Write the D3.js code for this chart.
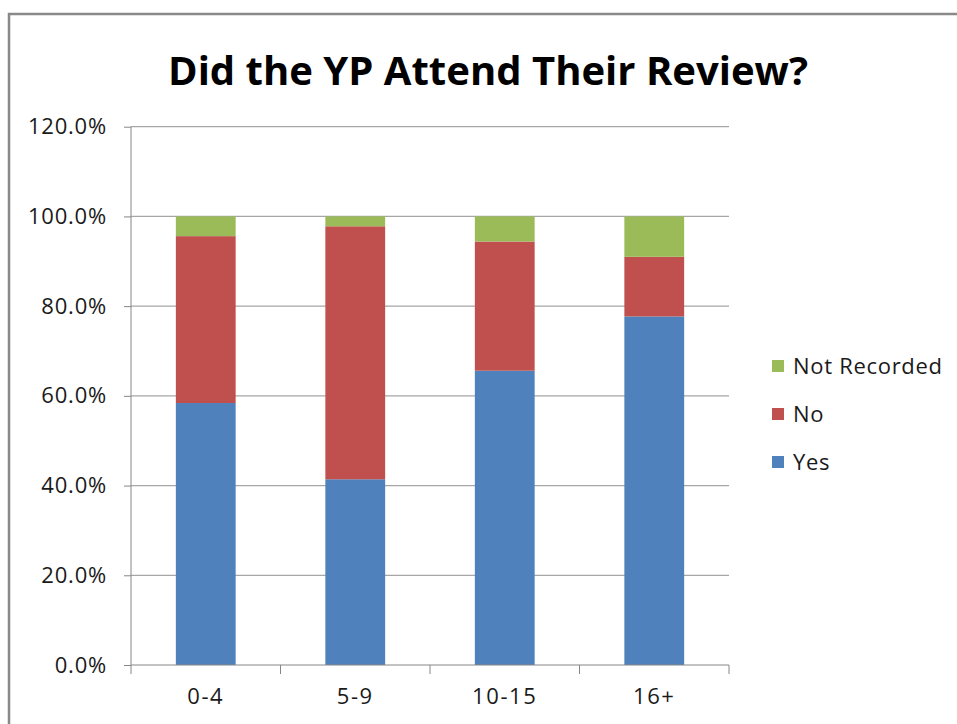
<!DOCTYPE html>
<html><head><meta charset="utf-8">
<script src="https://cdn.jsdelivr.net/npm/d3@7"></script>
<style>body{margin:0;background:#fff}svg{display:block}</style>
</head><body>
<script>
const categories = ["0-4", "5-9", "10-15", "16+"];
const yesValues = [58.4, 41.4, 65.6, 77.7];
const noValues = [37.2, 56.4, 28.8, 13.3];
const notRecordedValues = [4.4, 2.2, 5.6, 9.0];
const seriesNames = ["Yes", "No", "Not Recorded"];
const seriesColors = ["#4F81BD", "#C0504D", "#9BBB59"];
const yTicks = [0, 20, 40, 60, 80, 100, 120];
const titleText = "Did the YP Attend Their Review?";

const W = 957, H = 724;
const font = "'Open Sans', 'Noto Sans', sans-serif";
const svg = d3.select("body").append("svg").attr("width", W).attr("height", H);

// frame
svg.append("path").attr("d", `M9,${H} L9,14 L${W},14`).attr("fill", "none")
  .attr("stroke", "#898989").attr("stroke-width", 2.5);

const plot = {left: 131, right: 729, top: 126.7, bottom: 665};
const x = d3.scaleBand().domain(categories).range([plot.left, plot.right])
  .paddingInner(0.6).paddingOuter(0.3);
const y = d3.scaleLinear().domain([0, 120]).range([plot.bottom, plot.top]);

// gridlines
svg.append("g").selectAll("line").data(yTicks.filter(d => d > 0)).join("line")
  .attr("x1", plot.left).attr("x2", plot.right)
  .attr("y1", d => y(d)).attr("y2", d => y(d))
  .attr("stroke", "#a6a6a6").attr("stroke-width", 1.2);

// stacked data
const rows = categories.map((c, i) => ({cat: c, Yes: yesValues[i], No: noValues[i], "Not Recorded": notRecordedValues[i]}));
const stack = d3.stack().keys(seriesNames)(rows);
svg.append("g").selectAll("g").data(stack).join("g")
  .attr("fill", (d, i) => seriesColors[i])
  .selectAll("rect").data(d => d).join("rect")
  .attr("x", d => x(d.data.cat)).attr("width", x.bandwidth())
  .attr("y", d => y(d[1])).attr("height", d => y(d[0]) - y(d[1]));

// y axis
const yAxis = d3.axisLeft(y).tickValues(yTicks).tickSize(7).tickPadding(17)
  .tickFormat(d => d.toFixed(1) + "%");
const gy = svg.append("g").attr("transform", `translate(${plot.left},0)`).call(yAxis);
gy.select(".domain").attr("stroke", "#868686").attr("d", `M0,${plot.top}V${plot.bottom}`);
gy.selectAll(".tick line").attr("stroke", "#868686");
gy.selectAll("text").attr("font-family", font).attr("font-size", 22)
  .attr("letter-spacing", 0.8).attr("fill", "#1a1a1a");

// x axis
const xAxis = d3.axisBottom(x).tickSize(0).tickPadding(23);
const gx = svg.append("g").attr("transform", `translate(0,${plot.bottom})`).call(xAxis);
gx.select(".domain").attr("stroke", "#868686").attr("d", `M${plot.left},0H${plot.right}`);
gx.selectAll("text").attr("font-family", font).attr("font-size", 22)
  .attr("letter-spacing", 1.6).attr("fill", "#1a1a1a");
const bounds = [plot.left, ...categories.map(c => x(c) + x.bandwidth() + x.step() * x.paddingInner() / 2)];
bounds[bounds.length - 1] = plot.right;
gx.append("g").selectAll("line").data(bounds).join("line")
  .attr("x1", d => d).attr("x2", d => d).attr("y1", 0).attr("y2", 9)
  .attr("stroke", "#868686");

// title
svg.append("text").attr("x", 488).attr("y", 85).attr("text-anchor", "middle")
  .attr("font-family", font).attr("font-weight", "bold").attr("font-size", 40)
  .attr("textLength", 640).attr("lengthAdjust", "spacingAndGlyphs")
  .attr("fill", "#000").text(titleText);

// legend
const legendOrder = [2, 1, 0];
const lg = svg.append("g").selectAll("g").data(legendOrder).join("g")
  .attr("transform", (d, i) => `translate(772,${366 + i * 48})`);
lg.append("rect").attr("x", 0).attr("y", -6).attr("width", 12).attr("height", 12)
  .attr("fill", d => seriesColors[d]);
lg.append("text").attr("x", 21).attr("y", 0).attr("dy", "0.35em")
  .attr("font-family", font).attr("font-size", 22).attr("letter-spacing", 0.7)
  .attr("fill", "#1a1a1a").text(d => seriesNames[d]);
</script>
</body></html>
